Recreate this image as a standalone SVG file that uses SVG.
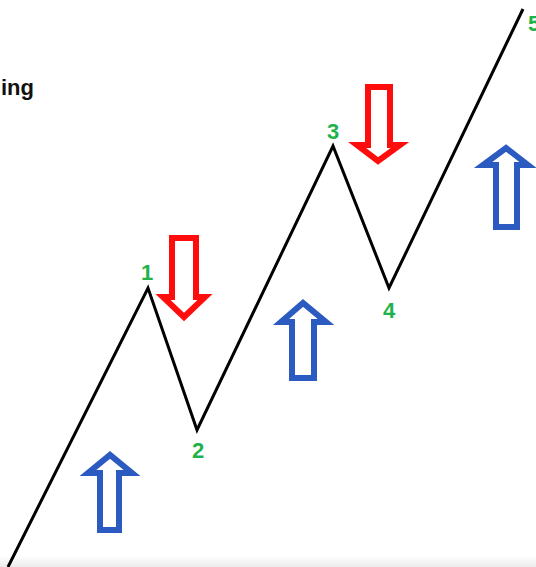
<svg xmlns="http://www.w3.org/2000/svg" width="536" height="567" viewBox="0 0 536 567">
<defs>
<style>
.lbl{font-family:"Liberation Sans",Arial,sans-serif;font-weight:bold;font-size:22px;fill:#1fb24a;text-anchor:middle}
.up{fill:#fff;stroke:#2b5bc1;stroke-width:6;stroke-linejoin:miter}
.down{fill:#fff;stroke:#ff0d0d;stroke-width:6;stroke-linejoin:miter}
</style>
<linearGradient id="bot" x1="0" y1="0" x2="0" y2="1">
<stop offset="0" stop-color="#ffffff"/>
<stop offset="1" stop-color="#ececec"/>
</linearGradient>
</defs>
<rect width="536" height="567" fill="#fff"/>
<rect x="0" y="556" width="536" height="11" fill="url(#bot)"/>
<text x="1" y="95" font-family="Liberation Sans,Arial,sans-serif" font-weight="bold" font-size="22" fill="#111">ing</text>
<g id="connectors">
<polyline points="8,567 148,288 197,430 333,146 389,288 523,9" fill="none" stroke="#000" stroke-width="3" stroke-linejoin="miter"/>
</g>
<g id="arrow-up-1"><polygon class="up" points="100,530 100,473 88,473 110,455 132,473 119,473 119,530"/></g>
<g id="arrow-up-2"><polygon class="up" points="292,378 292,322 281,322 303,303 326,322 314,322 314,378"/></g>
<g id="arrow-up-3"><polygon class="up" points="496,227 496,165 483,165 506,148 528,165 517,165 517,227"/></g>
<g id="arrow-down-1"><polygon class="down" points="172,238 196,238 196,297 205,297 184,317 163,297 172,297"/></g>
<g id="arrow-down-2"><polygon class="down" points="368,87 390,87 390,145 400,145 378,161 357,145 368,145"/></g>
<g id="label-1"><text class="lbl" x="147" y="280">1</text></g>
<g id="label-2"><text class="lbl" x="198" y="458">2</text></g>
<g id="label-3"><text class="lbl" x="333" y="139">3</text></g>
<g id="label-4"><text class="lbl" x="389" y="318">4</text></g>
<g id="label-5"><text class="lbl" x="534" y="31">5</text></g>
</svg>
